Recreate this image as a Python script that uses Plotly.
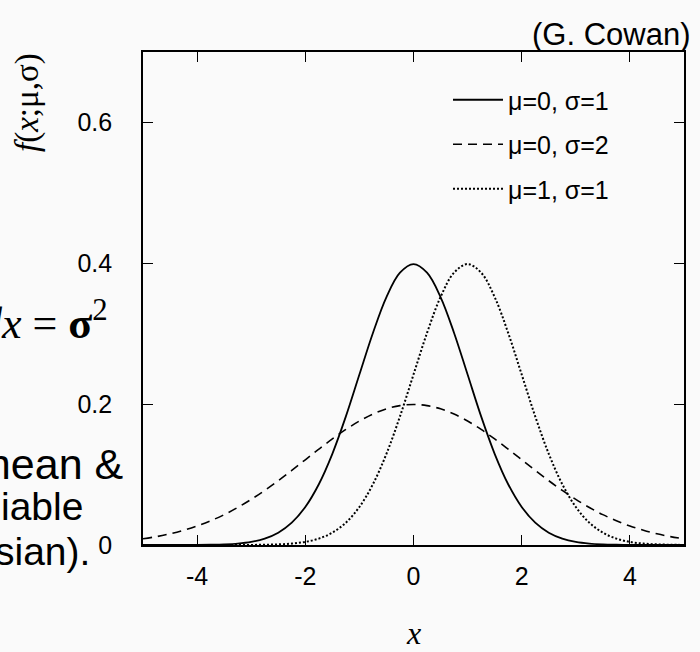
import plotly.graph_objects as go

# x grid (read at 0.25 steps)
x_vals = [-5.0 + 0.25 * i for i in range(41)]

# mu=0, sigma=1
y_m0_s1 = [0.0000, 0.0000, 0.0000, 0.0001, 0.0001, 0.0004, 0.0009, 0.0020, 0.0044, 0.0091,
           0.0175, 0.0317, 0.0540, 0.0863, 0.1295, 0.1826, 0.2420, 0.3011, 0.3521, 0.3867,
           0.3989,
           0.3867, 0.3521, 0.3011, 0.2420, 0.1826, 0.1295, 0.0863, 0.0540, 0.0317, 0.0175,
           0.0091, 0.0044, 0.0020, 0.0009, 0.0004, 0.0001, 0.0001, 0.0000, 0.0000, 0.0000]

# mu=0, sigma=2
y_m0_s2 = [0.0088, 0.0119, 0.0159, 0.0209, 0.0270, 0.0344, 0.0431, 0.0533, 0.0648, 0.0775,
           0.0913, 0.1059, 0.1210, 0.1360, 0.1506, 0.1641, 0.1760, 0.1859, 0.1933, 0.1979,
           0.1995,
           0.1979, 0.1933, 0.1859, 0.1760, 0.1641, 0.1506, 0.1360, 0.1210, 0.1059, 0.0913,
           0.0775, 0.0648, 0.0533, 0.0431, 0.0344, 0.0270, 0.0209, 0.0159, 0.0119, 0.0088]

# mu=1, sigma=1
y_m1_s1 = [0.0000, 0.0000, 0.0000, 0.0000, 0.0000, 0.0000, 0.0000, 0.0001, 0.0001, 0.0004,
           0.0009, 0.0020, 0.0044, 0.0091, 0.0175, 0.0317, 0.0540, 0.0863, 0.1295, 0.1826,
           0.2420, 0.3011, 0.3521, 0.3867, 0.3989,
           0.3867, 0.3521, 0.3011, 0.2420, 0.1826, 0.1295, 0.0863, 0.0540, 0.0317, 0.0175,
           0.0091, 0.0044, 0.0020, 0.0009, 0.0004, 0.0001]

series_names = ["μ=0, σ=1", "μ=0, σ=2", "μ=1, σ=1"]
x_ticks = [-4, -2, 0, 2, 4]
x_tick_labels = ["-4", "-2", "0", "2", "4"]
y_ticks = [0, 0.2, 0.4, 0.6]
y_tick_labels = ["0", "0.2", "0.4", "0.6"]

BG = "#fafafa"
SANS = "Liberation Sans, Arial, sans-serif"
SERIF = "Liberation Serif, Times New Roman, serif"

fig = go.Figure()
styles = [dict(dash="solid", width=1.8), dict(dash="9px,6px", width=1.6), dict(dash="2px,2px", width=2)]
for i, (ys, nm) in enumerate(zip([y_m0_s1, y_m0_s2, y_m1_s1], series_names)):
    fig.add_trace(go.Scatter(
        x=x_vals, y=ys, mode="lines", name=nm, legendgroup=f"g{i}",
        line=dict(color="black", shape="spline", smoothing=1.0, **styles[i]),
    ))

axis_common = dict(
    showline=True, linecolor="black", linewidth=1.6, mirror="ticks",
    ticks="inside", ticklen=10, tickwidth=1.4, tickcolor="black",
    showgrid=False, zeroline=False,
    tickfont=dict(family=SANS, size=25, color="black"),
)
fig.update_xaxes(range=[-5, 5], tickvals=x_ticks, ticktext=x_tick_labels,
                 ticklabelstandoff=8, **axis_common)
fig.update_yaxes(range=[0, 0.7], tickvals=y_ticks, ticktext=y_tick_labels,
                 ticklabelstandoff=24, **axis_common)

W, H = 700, 652
L, R, T, B = 143, 16, 52, 107

# (text, x px, y px, xanchor, font)
annotations = [
    ("(G. Cowan)", 692, 35, "right", dict(family=SANS, size=31)),
    ("<i>f</i>(<i>x</i>;μ,σ)", 27, 103, "center", dict(family=SERIF, size=33)),
    ("<i>x</i>", 413, 633, "center", dict(family=SERIF, size=32)),
    ("<i>dx</i> = <b>σ</b><sup>2</sup>", 110, 320, "right", dict(family=SERIF, size=44)),
    ("mean &", 126, 464, "right", dict(family=SANS, size=43)),
    ("iable", 85, 506, "right", dict(family=SANS, size=39)),
    ("sian).", 92, 551, "right", dict(family=SANS, size=39)),
]
anns = []
for text, xa, ya, xanchor, font in annotations:
    anns.append(dict(
        xref="paper", yref="paper",
        x=(xa - L) / (W - L - R), y=1 - (ya - T) / (H - T - B),
        xanchor=xanchor, yanchor="middle", showarrow=False,
        textangle=-90 if text.startswith("<i>f</i>") else 0,
        text=text, font=dict(color="black", **font)))

fig.update_layout(
    width=W, height=H,
    margin=dict(l=L, r=R, t=T, b=B, pad=0),
    paper_bgcolor=BG, plot_bgcolor=BG,
    showlegend=True,
    legend=dict(
        x=(448 - L) / (W - L - R), y=1 - (77 - T) / (H - T - B),
        xanchor="left", yanchor="top",
        bgcolor="rgba(0,0,0,0)", borderwidth=0,
        font=dict(family=SANS, size=25, color="black"),
        itemwidth=50, tracegroupgap=9,
    ),
    annotations=anns,
)

fig.write_html("out.html")
